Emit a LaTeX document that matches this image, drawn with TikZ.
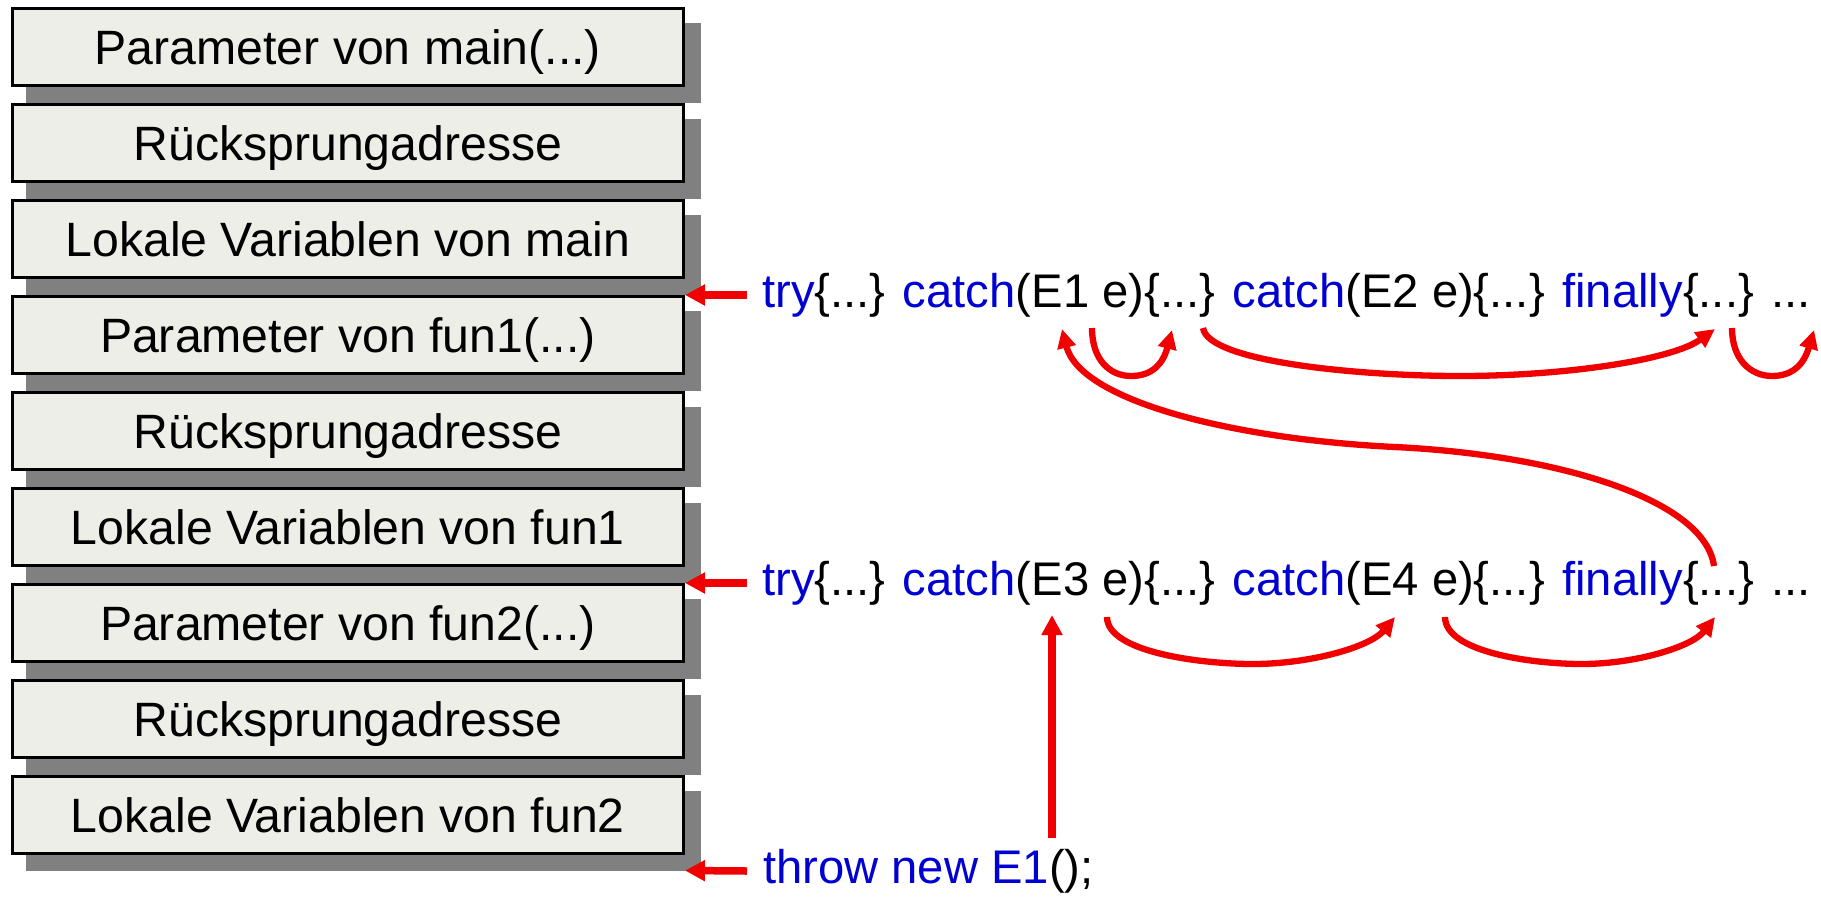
\documentclass[tikz,border=0pt]{standalone}
\usepackage{fontspec}
\setmainfont{Liberation Sans}
\usetikzlibrary{arrows.meta}
\definecolor{boxfill}{RGB}{238,238,233}
\definecolor{shadowgray}{RGB}{128,128,128}
\definecolor{kwblue}{RGB}{0,0,210}
\definecolor{arrred}{RGB}{240,0,0}
\begin{document}
\begin{tikzpicture}[x=1pt,y=-1pt,
  stackbox/.style={draw=black, line width=3pt, fill=boxfill, minimum width=671.3pt, minimum height=77pt, inner sep=0pt, font=\fontsize{48.2}{56}\selectfont, text height=34.5pt, text depth=0pt},
  shadowbox/.style={fill=shadowgray, draw=none, minimum width=674.3pt, minimum height=80pt, inner sep=0pt, outer sep=0pt},
  codeline/.style={anchor=base west, inner sep=0pt, font=\fontsize{47.2}{56}\selectfont},
  ptr/.style={draw=arrred, line width=7.5pt, -{Triangle[length=20pt,width=20pt]}},
  jump/.style={draw=arrred, line width=6.3pt, -{Triangle[length=19pt,width=18pt]}},
]
\useasboundingbox (0,0) rectangle (1821,898);
\fill[white] (0,0) rectangle (1821,898);

\foreach \i/\t in {0/{Parameter von main(...)},1/{Rücksprungadresse},2/{Lokale Variablen von main},3/{Parameter von fun1(...)},4/{Rücksprungadresse},5/{Lokale Variablen von fun1},6/{Parameter von fun2(...)},7/{Rücksprungadresse},8/{Lokale Variablen von fun2}}{
  \node[shadowbox] (s\i) at (363.35, 62.5+96*\i) {};
  \node[stackbox] (b\i) at (347.85, 47+96*\i) {\t};
}

\node[codeline] (l1) at (762,307) {\textcolor{kwblue}{try}\{...\} \textcolor{kwblue}{catch}(E1 e)\{...\} \textcolor{kwblue}{catch}(E2 e)\{...\} \textcolor{kwblue}{finally}\{...\} ...};
\node[codeline] (l2) at (762,595) {\textcolor{kwblue}{try}\{...\} \textcolor{kwblue}{catch}(E3 e)\{...\} \textcolor{kwblue}{catch}(E4 e)\{...\} \textcolor{kwblue}{finally}\{...\} ...};
\node[codeline] (l3) at (763,883) {\textcolor{kwblue}{throw new E1}();};

% stack pointers
\coordinate (p1) at (747,295);
\coordinate (p2) at (747,583);
\coordinate (p3) at (747,871);
\draw[ptr] (p1) -- (b3.north east);
\draw[ptr] (p2) -- (b6.north east);
\draw[ptr] (p3) -- (b8.east |- s8.south);

% throw
\coordinate (t0) at (1052,838);
\coordinate (t1) at (1052,615);
\draw[ptr] (t0) -- (t1);

% jumps line 2
\coordinate (F0) at (1107,617); \coordinate (F1) at (1395,617);
\coordinate (G0) at (1445,617); \coordinate (G1) at (1715,617);
\draw[jump] (F0) .. controls (1107,652) and (1200,664) .. (1253,664) .. controls (1310,664) and (1370,647) .. (F1);
\draw[jump] (G0) .. controls (1445,652) and (1532,664) .. (1582,664) .. controls (1635,664) and (1692,647) .. (G1);

% long jump
\coordinate (D0) at (1714,566); \coordinate (D1) at (1062,329);
\draw[jump] (D0) .. controls (1705,500) and (1560,455) .. (1395,447) .. controls (1230,439) and (1080,400) .. (D1);

% jumps line 1
\coordinate (A0) at (1092,328); \coordinate (A1) at (1172,330);
\coordinate (B0) at (1203,328); \coordinate (B1) at (1715,329);
\coordinate (C0) at (1732,328); \coordinate (C1) at (1814,330);
\draw[jump] (A0) .. controls (1092,360) and (1110,376) .. (1131,376) .. controls (1152,376) and (1163,364) .. (A1);
\draw[jump] (B0) .. controls (1208,362) and (1360,376) .. (1460,376) .. controls (1565,376) and (1672,360) .. (B1);
\draw[jump] (C0) .. controls (1732,360) and (1751,376) .. (1772,376) .. controls (1793,376) and (1804,364) .. (C1);
\end{tikzpicture}
\end{document}
